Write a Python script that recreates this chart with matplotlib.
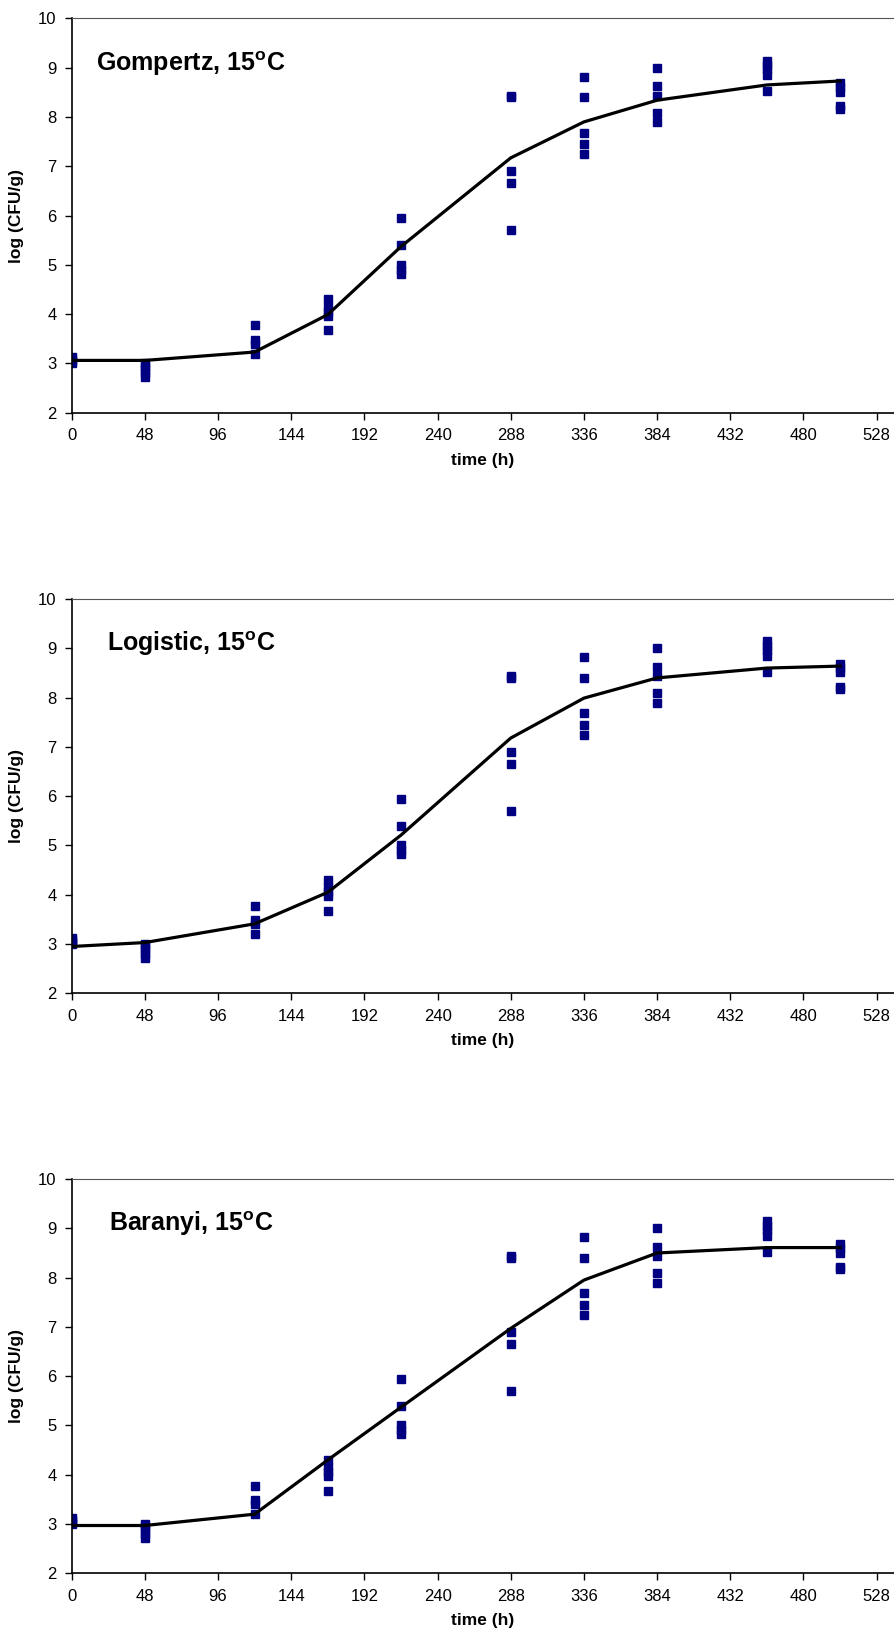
import matplotlib
matplotlib.use('Agg')
from matplotlib import pyplot as plt

plt.rcParams['font.family'] = ['Liberation Sans', 'DejaVu Sans']
plt.rcParams['mathtext.fontset'] = 'custom'
plt.rcParams['mathtext.rm'] = 'Liberation Sans:bold'

# sampling times (h)
times = [0, 48, 120, 168, 216, 288, 336, 384, 456, 504]

# observed log counts at each sampling time (same data in all panels)
obs_0 = [3.0, 3.04, 3.08, 3.12]
obs_48 = [2.72, 2.8, 2.88, 2.95, 3.0]
obs_120 = [3.78, 3.48, 3.4, 3.2]
obs_168 = [4.3, 4.15, 4.05, 3.97, 3.68]
obs_216 = [5.95, 5.4, 5.0, 4.9, 4.82]
obs_288 = [8.43, 8.4, 6.9, 6.65, 5.7]
obs_336 = [8.82, 8.4, 7.68, 7.45, 7.24]
obs_384 = [9.0, 8.62, 8.43, 8.09, 7.89]
obs_456 = [9.14, 9.05, 8.97, 8.85, 8.52]
obs_504 = [8.69, 8.6, 8.51, 8.22, 8.17]
obs_all = [obs_0, obs_48, obs_120, obs_168, obs_216,
           obs_288, obs_336, obs_384, obs_456, obs_504]

# fitted model curves
gompertz = [3.06, 3.06, 3.23, 3.99, 5.37, 7.17, 7.9, 8.34, 8.65, 8.73]
logistic = [2.95, 3.03, 3.41, 4.05, 5.21, 7.18, 7.99, 8.4, 8.6, 8.64]
baranyi = [2.97, 2.97, 3.2, 4.3, 5.37, 6.97, 7.95, 8.5, 8.61, 8.61]

panels = [('Gompertz', gompertz, 15.7), ('Logistic', logistic, 23.0), ('Baranyi', baranyi, 24.5)]
bottoms = [0.749, 0.3958, 0.0430]

fig = plt.figure(figsize=(8.94, 16.44), dpi=100)

for (name, fit, tx), bottom in zip(panels, bottoms):
    ax = fig.add_axes([0.0802, bottom, 0.9198, 0.2398])

    for t, vals in zip(times, obs_all):
        ax.plot([t] * len(vals), vals, linestyle='none', marker='s',
                markersize=5.5, color='#000080', zorder=2)
    ax.plot(times, fit, color='black', linewidth=2.3, zorder=3)

    ax.set_xlim(0, 539.4)
    ax.set_ylim(2, 10)
    ax.set_xticks(range(0, 529, 48))
    ax.set_yticks(range(2, 11))
    ax.tick_params(direction='out', length=5, width=1, labelsize=12, pad=6)
    ax.spines['right'].set_visible(False)
    ax.spines['top'].set_color('#555555')
    ax.spines['left'].set_linewidth(1.2)
    ax.spines['bottom'].set_linewidth(1.2)

    ax.set_xlabel('time (h)', fontsize=12.5, fontweight='bold', labelpad=7)
    ax.set_ylabel('log (CFU/g)', fontsize=12.5, fontweight='bold', labelpad=10)

    ax.text(tx, 8.94, name + r', 15$^{\mathrm{o}}$C', fontsize=18,
            fontweight='bold', ha='left', va='baseline')

fig.savefig('out.png', dpi=100, facecolor='w')
